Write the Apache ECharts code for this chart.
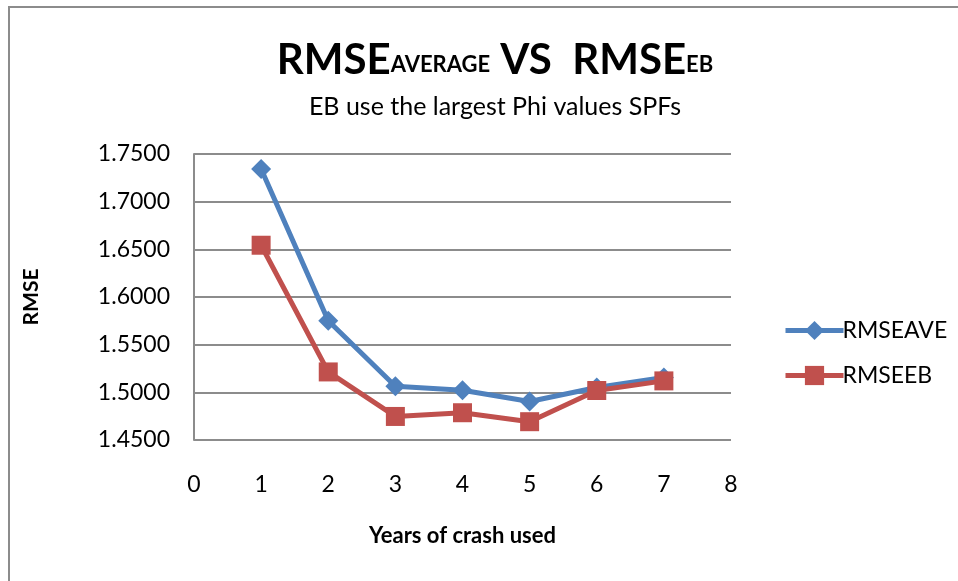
<!DOCTYPE html>
<html>
<head>
<meta charset="utf-8">
<script src="https://cdn.jsdelivr.net/npm/echarts@6/dist/echarts.min.js"></script>
<style>html,body{margin:0;padding:0;background:#fff;}#c{width:958px;height:581px;}</style>
</head>
<body>
<div id="c"></div>
<script>
var years = [1, 2, 3, 4, 5, 6, 7];
var rmseAve = [1.7343, 1.5750, 1.5064, 1.5022, 1.4904, 1.5050, 1.5155];
var rmseEB = [1.6543, 1.5214, 1.4747, 1.4786, 1.4692, 1.5019, 1.5120];
var seriesNames = ['RMSEAVE', 'RMSEEB'];

var F = 'Lato, "Open Sans", sans-serif';
var chart = echarts.init(document.getElementById('c'), null, {renderer: 'canvas'});
chart.setOption({
  animation: false,
  backgroundColor: '#fff',
  graphic: [{
    type: 'rect', shape: {x: 9, y: 7, width: 1200, height: 1000},
    style: {fill: 'none', stroke: '#8c8c8c', lineWidth: 2}, silent: true
  }],
  title: [{
    text: '{b|RMSE}{s|AVERAGE}{b| VS  RMSE}{s|EB}',
    left: 490, top: 34, textAlign: 'center',
    textStyle: {
      rich: {
        b: {fontFamily: F, fontWeight: 'bold', fontSize: 42, color: '#000', verticalAlign: 'bottom', lineHeight: 42},
        s: {fontFamily: F, fontWeight: 'bold', fontSize: 22, color: '#000', verticalAlign: 'bottom', lineHeight: 22, padding: [0, 0, 5, 0]}
      }
    }
  }, {
    text: 'EB use the largest Phi values SPFs',
    left: 490, top: 89, textAlign: 'center',
    textStyle: {fontFamily: F, fontWeight: 'normal', fontSize: 25, color: '#000'}
  }],
  legend: {
    orient: 'vertical', left: 778, top: 314, itemGap: 22,
    itemWidth: 58, itemHeight: 24,
    lineStyle: {width: 5},
    textStyle: {fontFamily: F, fontSize: 23, color: '#000', padding: [0, 0, 0, -6]},
    data: seriesNames
  },
  grid: {left: 194, right: 227, top: 154, bottom: 141},
  xAxis: {
    type: 'value', min: 0, max: 8, interval: 1,
    name: 'Years of crash used', nameLocation: 'middle', nameGap: 85,
    nameTextStyle: {fontFamily: F, fontWeight: 'bold', fontSize: 22, color: '#000'},
    axisLine: {show: false}, axisTick: {show: false}, splitLine: {show: false},
    axisLabel: {fontFamily: F, fontSize: 23, color: '#000', margin: 33}
  },
  yAxis: {
    type: 'value', min: 1.45, max: 1.75, interval: 0.05,
    name: 'RMSE', nameLocation: 'middle', nameGap: 152,
    nameTextStyle: {fontFamily: F, fontWeight: 'bold', fontSize: 21, color: '#000'},
    axisLine: {show: true, lineStyle: {color: '#8c8c8c', width: 2}},
    axisTick: {show: false},
    splitLine: {show: true, lineStyle: {color: '#8c8c8c', width: 2}},
    axisLabel: {fontFamily: F, fontSize: 23, color: '#000', margin: 24,
      formatter: function (v) { return v.toFixed(4); }}
  },
  series: [{
    name: seriesNames[0], type: 'line',
    data: years.map(function (x, i) { return [x, rmseAve[i]]; }),
    symbol: 'diamond', symbolSize: 20,
    lineStyle: {color: '#4F81BD', width: 5},
    itemStyle: {color: '#4F81BD'}
  }, {
    name: seriesNames[1], type: 'line',
    data: years.map(function (x, i) { return [x, rmseEB[i]]; }),
    symbol: 'rect', symbolSize: 19,
    lineStyle: {color: '#C0504D', width: 5},
    itemStyle: {color: '#C0504D'}
  }]
});
</script>
</body>
</html>
